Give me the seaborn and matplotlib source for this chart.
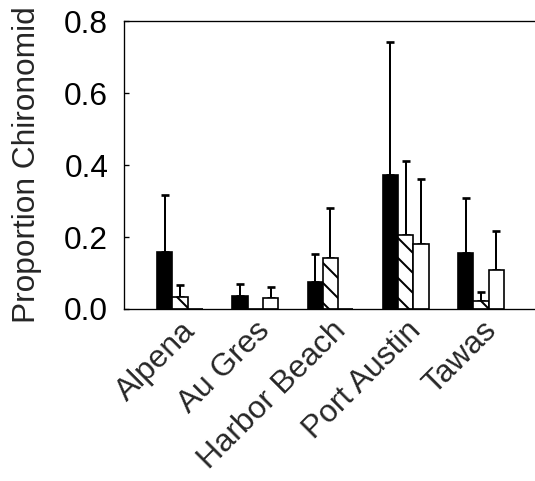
import numpy as np
import pandas as pd
import matplotlib
matplotlib.use("Agg")
import matplotlib.pyplot as plt
import seaborn as sns

# Sites and the three groups per site
sites = ["Alpena", "Au Gres", "Harbor Beach", "Port Austin", "Tawas"]
groups = ["Group 1", "Group 2", "Group 3"]

# Mean proportions per group (same order as sites)
mean_g1 = [0.159, 0.035, 0.076, 0.372, 0.155]
mean_g2 = [0.032, 0.0, 0.141, 0.205, 0.022]
mean_g3 = [0.0, 0.031, 0.0, 0.181, 0.107]

# Upper end of the error bars
upper_g1 = [0.318, 0.069, 0.153, 0.743, 0.308]
upper_g2 = [0.066, 0.0, 0.281, 0.411, 0.046]
upper_g3 = [0.0, 0.062, 0.0, 0.361, 0.218]

yticks = [0.0, 0.2, 0.4, 0.6, 0.8]

means = [mean_g1, mean_g2, mean_g3]
uppers = [upper_g1, upper_g2, upper_g3]

df = pd.DataFrame({
    "site": np.tile(sites, len(groups)),
    "group": np.repeat(groups, len(sites)),
    "value": np.concatenate(means),
    "upper": np.concatenate(uppers),
})

sns.set_theme(style="white")
plt.rcParams["font.family"] = ["Liberation Sans", "DejaVu Sans"]
plt.rcParams["hatch.linewidth"] = 1.2
plt.rcParams["hatch.color"] = "black"

FS = 19

dpi = 120
fig = plt.figure(figsize=(535 / dpi, 481 / dpi), dpi=dpi)
ax = fig.add_axes([124 / 535, 1 - 309 / 481, 1 - 124 / 535, (309 - 21) / 481])

sns.barplot(data=df, x="site", y="value", hue="group", order=sites,
            hue_order=groups, palette=["black", "white", "white"],
            width=0.61, errorbar=None, edgecolor="black", linewidth=1.0,
            legend=False, ax=ax, zorder=2)

hatches = ["", "\\\\", ""]
for cont, hatch, m, u in zip(ax.containers, hatches, means, uppers):
    xs, ys, errs = [], [], []
    for bar, mv, uv in zip(cont, m, u):
        bar.set_hatch(hatch)
        if mv > 0:
            xs.append(bar.get_x() + bar.get_width() / 2)
            ys.append(mv)
            errs.append(uv - mv)
    ax.errorbar(xs, ys, yerr=[np.zeros(len(errs)), errs], fmt="none",
                ecolor="black", elinewidth=1.2, capsize=2.6, capthick=1.6,
                zorder=1)

ax.set_ylim(0, 0.8)
ax.set_xlim(-0.744, 4.718)
ax.set_yticks(yticks)
ax.set_yticklabels([f"{t:.1f}" for t in yticks], fontsize=FS)
ax.tick_params(axis="y", direction="in", length=3, width=0.8, pad=9.5,
               left=True, colors="black")
ax.tick_params(axis="x", length=0, pad=4)
ax.set_xticks(range(len(sites)))
ax.set_xticklabels(sites, rotation=45, ha="right", rotation_mode="anchor",
                   fontsize=FS)
ax.set_xlabel("")
ax.set_ylabel("Proportion Chironomid", fontsize=FS, labelpad=13)

for side in ["left", "top", "bottom"]:
    ax.spines[side].set_visible(True)
    ax.spines[side].set_color("black")
    ax.spines[side].set_linewidth(0.8)
ax.spines["right"].set_visible(False)

fig.savefig("out.png", dpi=dpi)
